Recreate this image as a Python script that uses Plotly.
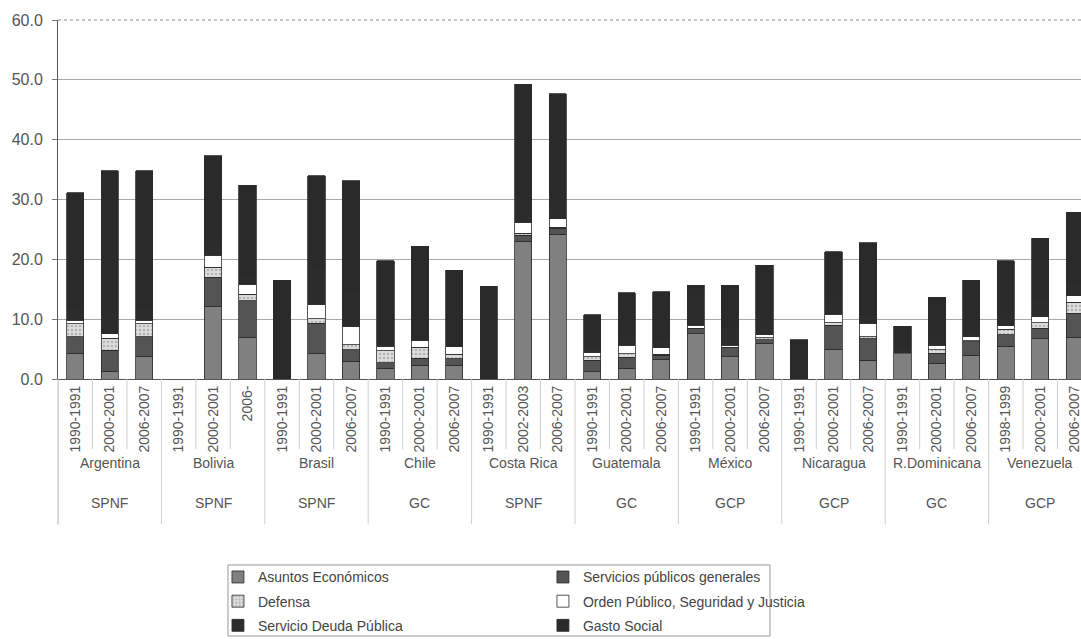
import plotly.graph_objects as go

periods = ["1990-1991", "2000-2001", "2006-2007",
           "1990-1991", "2000-2001", "2006-",
           "1990-1991", "2000-2001", "2006-2007",
           "1990-1991", "2000-2001", "2006-2007",
           "1990-1991", "2002-2003", "2006-2007",
           "1990-1991", "2000-2001", "2006-2007",
           "1990-1991", "2000-2001", "2006-2007",
           "1990-1991", "2000-2001", "2006-2007",
           "1990-1991", "2000-2001", "2006-2007",
           "1998-1999", "2000-2001", "2006-2007"]
countries = ["Argentina", "Bolivia", "Brasil", "Chile", "Costa Rica",
             "Guatemala", "México", "Nicaragua", "R.Dominicana", "Venezuela"]
sectors = ["SPNF", "SPNF", "SPNF", "GC", "SPNF", "GC", "GCP", "GCP", "GC", "GCP"]

asuntos_economicos = [4.3, 1.3, 3.8, 0, 12.1, 7.0, 0, 4.3, 3.0, 1.8, 2.3, 2.3, 0, 23.0, 24.2,
                      1.2, 1.8, 3.3, 7.6, 3.7, 6.0, 0, 5.0, 3.1, 4.2, 2.6, 4.0, 5.5, 6.8, 7.0]
servicios_generales = [2.8, 3.5, 3.3, 0, 4.9, 6.1, 0, 5.0, 1.9, 0.9, 1.2, 1.1, 0, 1.0, 1.0,
                       1.9, 1.8, 0.7, 0.8, 1.5, 0.6, 0, 4.0, 3.6, 0, 1.7, 2.2, 1.9, 1.7, 4.0]
defensa = [2.1, 2.0, 2.1, 0, 1.7, 1.1, 0, 0.8, 0.8, 2.0, 1.8, 0.7, 0, 0.4, 0.2,
           0.6, 0.6, 0.1, 0.1, 0.1, 0.3, 0, 0.4, 0.4, 0, 0.6, 0.2, 0.9, 0.9, 1.8]
orden_publico = [0.6, 0.8, 0.6, 0, 2.0, 1.6, 0, 2.4, 3.1, 0.8, 1.1, 1.3, 0, 1.8, 1.4,
                 0.8, 1.4, 1.1, 0.5, 0.3, 0.5, 0, 1.4, 2.2, 0.2, 0.7, 0.7, 0.6, 1.0, 1.1]
deuda_publica = [2.0, 3.5, 2.0, 0, 2.5, 1.5, 0, 6.0, 5.5, 0.5, 0.3, 0.2, 0, 4.0, 3.0,
                 1.0, 1.5, 1.3, 5.0, 3.0, 2.3, 0, 3.0, 1.5, 1.0, 1.5, 1.2, 2.5, 3.0, 2.0]
gasto_social = [19.3, 23.7, 23.0, 0, 14.1, 15.1, 16.5, 15.5, 18.8, 13.8, 15.5, 12.6, 15.5, 19.1, 17.9,
                5.2, 7.3, 8.1, 1.7, 7.1, 9.3, 6.6, 7.5, 12.0, 3.4, 6.6, 8.2, 8.4, 10.1, 12.0]

x = list(range(len(periods)))
line = dict(color="#2a2a2a", width=0.8)

fig = go.Figure()
fig.add_bar(x=x, y=asuntos_economicos, name="Asuntos Económicos", legend="legend", legendgroup="a",
            marker=dict(color="#808080", line=line))
fig.add_bar(x=x, y=servicios_generales, name="Servicios públicos generales", legend="legend2", legendgroup="b",
            marker=dict(color="#545454", line=line))
fig.add_bar(x=x, y=defensa, name="Defensa", legend="legend", legendgroup="c",
            marker=dict(color="#d8d8d8", line=line,
                        pattern=dict(shape=".", fgcolor="#8a8a8a", bgcolor="#dcdcdc", size=4, solidity=0.3)))
fig.add_bar(x=x, y=orden_publico, name="Orden Público, Seguridad y Justicia", legend="legend2", legendgroup="d",
            marker=dict(color="#ffffff", line=line))
fig.add_bar(x=x, y=deuda_publica, name="Servicio Deuda Pública", legend="legend", legendgroup="e",
            marker=dict(color="#2c2c2c", line=dict(color="#2c2c2c", width=0.8)))
fig.add_bar(x=x, y=gasto_social, name="Gasto Social", legend="legend2", legendgroup="f",
            marker=dict(color="#2a2a2a", line=line))

shapes = []
sep_color = "#cfcfcf"
for g in range(len(countries)):
    xb = g * 3 - 0.5
    shapes.append(dict(type="line", xref="x", yref="paper", x0=xb, x1=xb, y0=0, y1=-0.405,
                       line=dict(color=sep_color, width=1)))
    for k in (1, 2):
        xs = g * 3 + k - 0.5
        shapes.append(dict(type="line", xref="x", yref="paper", x0=xs, x1=xs, y0=0, y1=-0.195,
                           line=dict(color=sep_color, width=1)))
shapes.append(dict(type="line", xref="paper", yref="paper", x0=0, x1=0, y0=0, y1=-0.405,
                   line=dict(color="#bdbdbd", width=1)))
# top border line at 60
shapes.append(dict(type="line", xref="paper", yref="paper", x0=0, x1=1, y0=1, y1=1,
                   line=dict(color="#8a8a8a", width=1, dash="dot"), layer="below"))
# legend box
shapes.append(dict(type="rect", xref="paper", yref="paper", x0=0.1644, x1=0.6886, y0=-0.518, y1=-0.716,
                   line=dict(color="#9a9a9a", width=1), fillcolor="rgba(0,0,0,0)"))

annotations = []
for g, (c, s) in enumerate(zip(countries, sectors)):
    annotations.append(dict(x=g * 3 + 1, y=-0.234, xref="x", yref="paper", text=c, showarrow=False,
                            font=dict(size=14, color="#555555"), xanchor="center", yanchor="middle"))
    annotations.append(dict(x=g * 3 + 1, y=-0.345, xref="x", yref="paper", text=s, showarrow=False,
                            font=dict(size=14, color="#555555"), xanchor="center", yanchor="middle"))

fig.update_layout(
    width=1092, height=639,
    margin=dict(l=58, r=0, t=20, b=260, autoexpand=False),
    paper_bgcolor="white", plot_bgcolor="white",
    barmode="stack", bargap=0.5,
    font=dict(family="Liberation Sans, Arial, sans-serif", size=14, color="#555555"),
    xaxis=dict(range=[-0.5, 29.5], tickvals=x, ticktext=periods, tickangle=-90,
               showgrid=False, showline=True, linecolor="#555555", linewidth=1,
               ticks="", tickfont=dict(size=14, color="#555555"), automargin=False),
    yaxis=dict(range=[0, 60], dtick=10, tickformat=".1f", showgrid=True, gridcolor="#a8a8a8",
               gridwidth=1, showline=True, linecolor="#555555", linewidth=1, ticks="outside",
               ticklen=5, tickcolor="#777777", zeroline=False, ticklabelstandoff=6,
               tickfont=dict(size=16, color="#555555"), automargin=False),
    legend=dict(x=0.1547, y=-0.508, xanchor="left", yanchor="top", traceorder="grouped",
                font=dict(size=14, color="#444444"), tracegroupgap=3, bgcolor="rgba(0,0,0,0)",
                itemwidth=30),
    legend2=dict(x=0.469, y=-0.508, xanchor="left", yanchor="top", traceorder="grouped",
                 font=dict(size=14, color="#444444"), tracegroupgap=3, bgcolor="rgba(0,0,0,0)",
                 itemwidth=30),
    shapes=shapes, annotations=annotations, showlegend=True,
)

fig.write_html("out.html", config={"displayModeBar": False},
               post_script="document.body.style.margin='0px';document.body.style.overflow='hidden';")
